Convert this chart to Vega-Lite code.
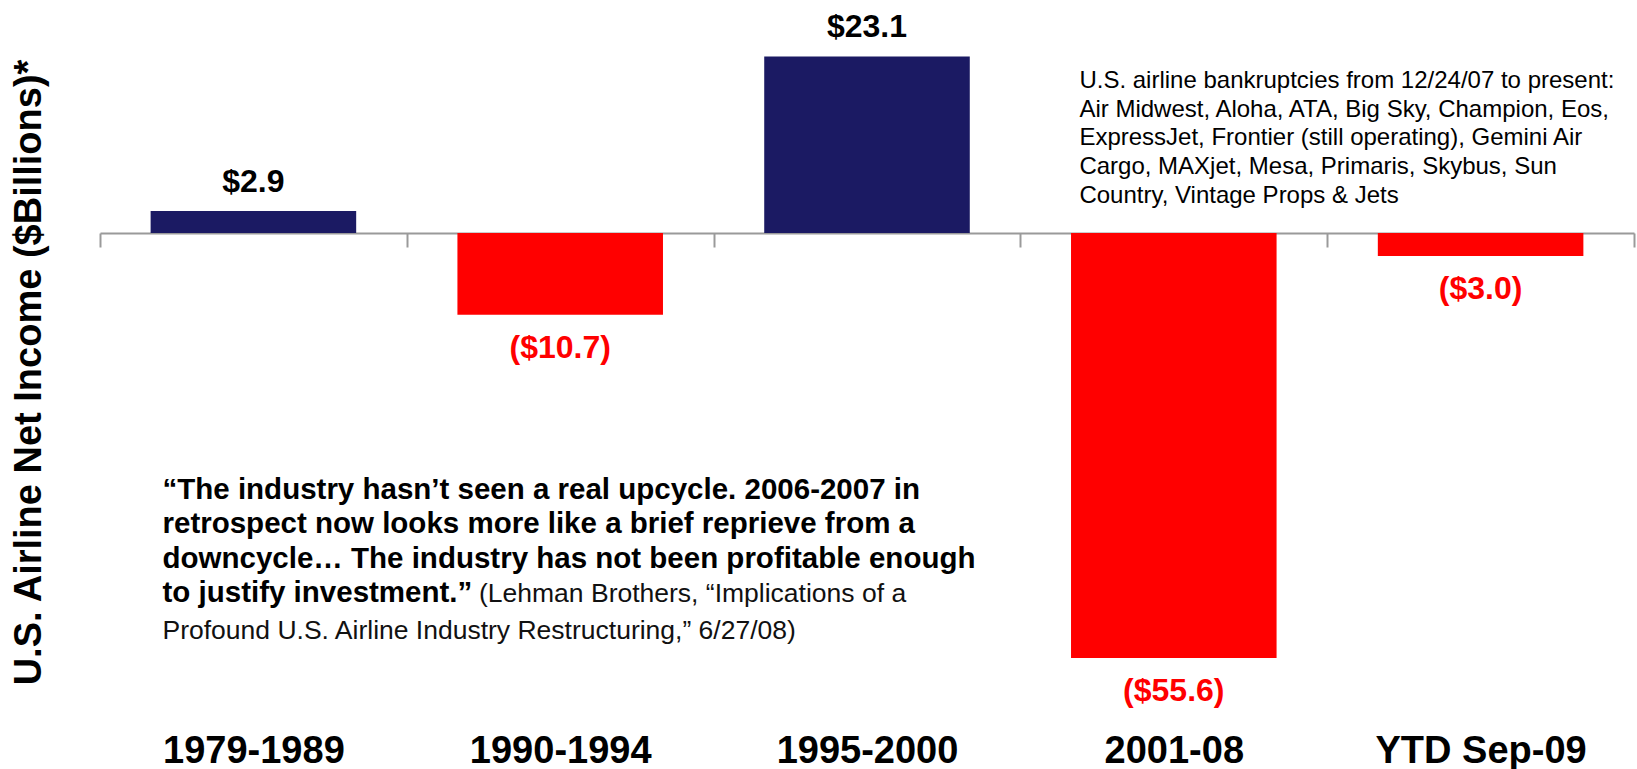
{
  "$schema": "https://vega.github.io/schema/vega-lite/v6.json",
  "width": 1534,
  "height": 688,
  "autosize": {"type": "none"},
  "padding": {"left": 100, "top": 19, "right": 3, "bottom": 62},
  "config": {"view": {"stroke": null}, "font": "Liberation Sans"},
  "data": {
    "values": [
      {"period": "1979-1989", "value": 2.9, "label": "$2.9"},
      {"period": "1990-1994", "value": -10.7, "label": "($10.7)"},
      {"period": "1995-2000", "value": 23.1, "label": "$23.1"},
      {"period": "2001-08", "value": -55.6, "label": "($55.6)"},
      {"period": "YTD Sep-09", "value": -3.0, "label": "($3.0)"}
    ]
  },
  "layer": [
    {
      "mark": {"type": "bar", "width": {"band": 0.67}},
      "encoding": {
        "x": {
          "field": "period", "type": "nominal", "sort": null,
          "scale": {"paddingInner": 0, "paddingOuter": 0},
          "axis": {
            "orient": "bottom", "offset": -474, "title": null,
            "domain": true, "domainColor": "#9a9a9a", "domainWidth": 2,
            "ticks": true, "tickBand": "extent", "tickSize": 14, "tickColor": "#9a9a9a", "tickWidth": 2,
            "labelAngle": 0, "labelFont": "Liberation Sans", "labelFontSize": 38, "labelFontWeight": "bold",
            "labelColor": "#000000", "labelPadding": 515, "labelBaseline": "alphabetic", "labelLimit": 0,
            "labelOverlap": false, "grid": false
          }
        },
        "y": {
          "field": "value", "type": "quantitative",
          "scale": {"domain": [-62, 28], "nice": false, "zero": false},
          "axis": {
            "title": "U.S. Airline Net Income ($Billions)*",
            "domain": false, "ticks": false, "labels": false, "grid": false,
            "titleFont": "Liberation Sans", "titleFontSize": 38, "titleFontWeight": "bold", "titleColor": "#000000",
            "titleX": -71, "titleY": 353, "titleAngle": -90, "titleAlign": "center", "titleBaseline": "middle"
          }
        },
        "color": {"condition": {"test": "datum.value > 0", "value": "#1B1A63"}, "value": "#FF0000"}
      }
    },
    {
      "transform": [{"filter": "datum.value > 0"}],
      "mark": {"type": "text", "baseline": "alphabetic", "dy": -19, "font": "Liberation Sans", "fontSize": 32, "fontWeight": "bold", "color": "#000000"},
      "encoding": {
        "x": {"field": "period", "type": "nominal", "sort": null},
        "y": {"field": "value", "type": "quantitative"},
        "text": {"field": "label"}
      }
    },
    {
      "transform": [{"filter": "datum.value < 0"}],
      "mark": {"type": "text", "baseline": "alphabetic", "dy": 43, "font": "Liberation Sans", "fontSize": 32, "fontWeight": "bold", "color": "#FF0000"},
      "encoding": {
        "x": {"field": "period", "type": "nominal", "sort": null},
        "y": {"field": "value", "type": "quantitative"},
        "text": {"field": "label"}
      }
    },
    {
      "data": {"values": [{"t": ["U.S. airline bankruptcies from 12/24/07 to present:", "Air Midwest, Aloha, ATA, Big Sky, Champion, Eos,", "ExpressJet, Frontier (still operating), Gemini Air", "Cargo, MAXjet, Mesa, Primaris, Skybus, Sun", "Country, Vintage Props & Jets"]}]},
      "mark": {"type": "text", "align": "left", "baseline": "alphabetic", "dx": 59, "font": "Liberation Sans", "fontSize": 24, "lineHeight": 28.7, "color": "#000000"},
      "encoding": {
        "x": {"datum": "2001-08", "type": "nominal", "bandPosition": 0},
        "y": {"datum": 18.97, "type": "quantitative"},
        "text": {"field": "t"}
      }
    },
    {
      "data": {"values": [{"t": ["“The industry hasn’t seen a real upcycle. 2006-2007 in", "retrospect now looks more like a brief reprieve from a", "downcycle… The industry has not been profitable enough", "to justify investment.”"]}]},
      "mark": {"type": "text", "align": "left", "baseline": "alphabetic", "dx": 62.5, "font": "Liberation Sans", "fontSize": 29.5, "fontWeight": "bold", "lineHeight": 34.5, "color": "#000000"},
      "encoding": {
        "x": {"datum": "1979-1989", "type": "nominal", "bandPosition": 0},
        "y": {"datum": -34.73, "type": "quantitative"},
        "text": {"field": "t"}
      }
    },
    {
      "data": {"values": [{"t": "(Lehman Brothers, “Implications of a"}]},
      "mark": {"type": "text", "align": "left", "baseline": "alphabetic", "dx": 379, "font": "Liberation Sans", "fontSize": 26.5, "color": "#111111"},
      "encoding": {
        "x": {"datum": "1979-1989", "type": "nominal", "bandPosition": 0},
        "y": {"datum": -48.27, "type": "quantitative"},
        "text": {"field": "t"}
      }
    },
    {
      "data": {"values": [{"t": "Profound U.S. Airline Industry Restructuring,” 6/27/08)"}]},
      "mark": {"type": "text", "align": "left", "baseline": "alphabetic", "dx": 62.5, "font": "Liberation Sans", "fontSize": 26.5, "color": "#111111"},
      "encoding": {
        "x": {"datum": "1979-1989", "type": "nominal", "bandPosition": 0},
        "y": {"datum": -53.11, "type": "quantitative"},
        "text": {"field": "t"}
      }
    }
  ]
}
